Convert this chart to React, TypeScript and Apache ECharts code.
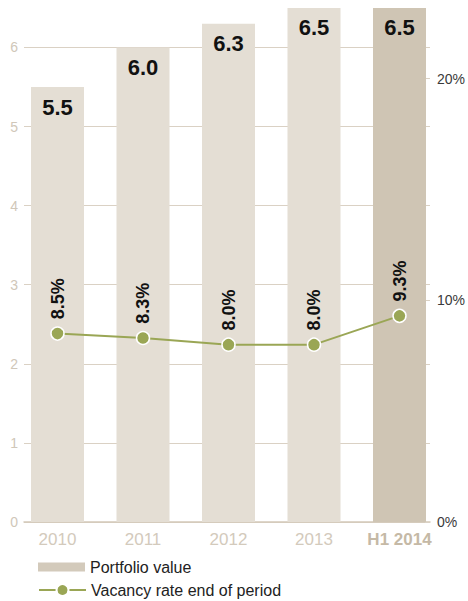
import React, { useEffect, useRef } from 'react';
import * as echarts from 'echarts';

const categories = ['2010', '2011', '2012', '2013', 'H1 2014'];
const portfolioValue = [5.5, 6.0, 6.3, 6.5, 6.5];
const vacancyRate = [8.5, 8.3, 8.0, 8.0, 9.3];
const leftTicks = [0, 1, 2, 3, 4, 5, 6];
const rightTicks = [0, 10, 20];
const highlightCategory = 'H1 2014';
const seriesNames = ['Portfolio value', 'Vacancy rate end of period'];

const FONT = '"Liberation Sans", Arial, sans-serif';
const LIGHT_BAR = '#e4ded4';
const DARK_BAR = '#cfc5b4';
const GRID_COLOR = '#dad1c4';
const GREEN = '#9aa655';
const LEFT_MAX = 6.6;
const RIGHT_MAX = 23.55;

export default function App() {
  const ref = useRef<HTMLDivElement>(null);

  useEffect(() => {
    if (!ref.current) return;
    const chart = echarts.init(ref.current, undefined, { renderer: 'svg' });
    const option: any = {
      animation: false,
      textStyle: { fontFamily: FONT },
      grid: [
        { left: 24, right: 37, top: 0, bottom: 79 },
        { left: 14.75, right: 25.75, top: 0, bottom: 79 },
      ],
      xAxis: [
        {
          gridIndex: 0,
          type: 'value',
          min: 0,
          max: 1,
          axisLine: { show: true, onZero: false, lineStyle: { color: '#d3c9b9', width: 1.5 } },
          axisTick: { show: false },
          axisLabel: { show: false },
          splitLine: { show: false },
        },
        {
          gridIndex: 1,
          type: 'category',
          data: categories,
          axisLine: { show: false },
          axisTick: { show: false },
          axisLabel: {
            margin: 9,
            formatter: (v: string) => (v === highlightCategory ? `{b|${v}}` : `{a|${v}}`),
            rich: {
              a: { fontSize: 17, color: '#d3cabc', fontFamily: FONT },
              b: { fontSize: 17, color: '#c5b9a6', fontWeight: 'bold', fontFamily: FONT },
            },
          },
        },
      ],
      yAxis: [
        {
          gridIndex: 0,
          type: 'value',
          min: 0,
          max: LEFT_MAX,
          interval: 1,
          axisLine: { show: false },
          axisTick: { show: false, customValues: leftTicks },
          axisLabel: {
            margin: 6,
            fontSize: 14,
            color: '#d0c7b9',
            fontFamily: FONT,
            customValues: leftTicks,
          },
          splitLine: {
            show: true,
            lineStyle: {
              color: [...leftTicks.map(() => GRID_COLOR), 'rgba(0,0,0,0)'],
              width: 1,
            },
          },
        },
        {
          gridIndex: 0,
          type: 'value',
          position: 'right',
          min: 0,
          max: RIGHT_MAX,
          interval: 10,
          axisLine: { show: false },
          axisTick: {
            show: true,
            inside: true,
            length: 5,
            customValues: rightTicks,
            lineStyle: { color: GRID_COLOR },
          },
          axisLabel: {
            margin: 7,
            fontSize: 14,
            color: '#3a3a3a',
            fontFamily: FONT,
            customValues: rightTicks,
            formatter: (v: number) => `${v}%`,
          },
          splitLine: { show: false },
        },
        { gridIndex: 1, type: 'value', min: 0, max: LEFT_MAX, show: false },
        { gridIndex: 1, type: 'value', min: 0, max: RIGHT_MAX, show: false },
      ],
      legend: [
        {
          data: [seriesNames[0]],
          left: 33,
          top: 554,
          icon: 'rect',
          itemWidth: 47,
          itemHeight: 9,
          textStyle: { fontSize: 16, color: '#222', fontFamily: FONT },
          selectedMode: false,
        },
        {
          data: [seriesNames[1]],
          left: 33,
          top: 577,
          itemWidth: 47,
          itemHeight: 15,
          textStyle: { fontSize: 16, color: '#222', fontFamily: FONT },
          selectedMode: false,
        },
      ],
      series: [
        {
          name: seriesNames[0],
          type: 'bar',
          xAxisIndex: 1,
          yAxisIndex: 2,
          barWidth: 53,
          itemStyle: { color: '#d3cabb' },
          data: portfolioValue.map((v, i) => ({
            value: v,
            itemStyle: { color: categories[i] === highlightCategory ? DARK_BAR : LIGHT_BAR },
          })),
          label: {
            show: true,
            position: 'insideTop',
            distance: 9,
            fontSize: 22,
            fontWeight: 'bold',
            color: '#111',
            fontFamily: FONT,
            formatter: (p: any) => Number(p.value).toFixed(1),
          },
        },
        {
          name: seriesNames[1],
          type: 'line',
          xAxisIndex: 1,
          yAxisIndex: 3,
          data: vacancyRate,
          symbol: 'circle',
          symbolSize: 13,
          lineStyle: { color: GREEN, width: 2 },
          itemStyle: { color: GREEN, borderColor: '#fff', borderWidth: 1.5 },
          z: 3,
          label: {
            show: true,
            position: 'top',
            distance: 7,
            rotate: 90,
            align: 'left',
            verticalAlign: 'middle',
            fontSize: 18,
            fontWeight: 'bold',
            color: '#111',
            fontFamily: FONT,
            formatter: (p: any) => `${Number(p.value).toFixed(1)}%`,
          },
        },
      ],
    };
    chart.setOption(option);
    return () => chart.dispose();
  }, []);

  return (
    <div
      ref={ref}
      style={{ position: 'fixed', left: 0, top: 0, width: 468, height: 601, background: '#fff' }}
    />
  );
}
